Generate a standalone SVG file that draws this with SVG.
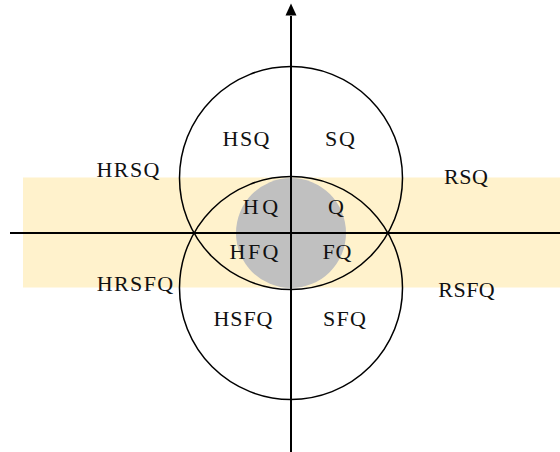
<svg xmlns="http://www.w3.org/2000/svg" width="560" height="452" viewBox="0 0 560 452">
  <style>
    .lbl { font-family: "Liberation Serif", "Times New Roman", serif; font-size: 22px; fill: #111; text-anchor: middle; }
    .ring { fill: none; stroke: #000; stroke-width: 1.5; }
    .axis { stroke: #000; stroke-width: 2; fill: none; }
  </style>
  <rect x="0" y="0" width="560" height="452" fill="#fff"/>
  <g id="band">
    <rect x="23" y="177.5" width="537" height="110" fill="#FFF2CC"/>
  </g>
  <g id="core">
    <circle cx="291" cy="233" r="55" fill="#C0C0C0"/>
  </g>
  <g id="top-circle">
    <circle class="ring" cx="291" cy="178" r="111.5"/>
  </g>
  <g id="bottom-circle">
    <circle class="ring" cx="291" cy="288" r="111.5"/>
  </g>
  <g id="axes">
    <line class="axis" x1="10" y1="233" x2="560" y2="233" stroke-width="1.6"/>
    <line class="axis" x1="291" y1="452" x2="291" y2="16"/>
    <path d="M285.5,15.5 L291,3.5 L296.5,15.5 Z" fill="#000"/>
  </g>
  <g id="labels">
    <text class="lbl" x="128" y="177" textLength="63" lengthAdjust="spacing">HRSQ</text>
    <text class="lbl" x="246" y="146" textLength="47" lengthAdjust="spacing">HSQ</text>
    <text class="lbl" x="340" y="146" textLength="30" lengthAdjust="spacing">SQ</text>
    <text class="lbl" x="466" y="184" textLength="44" lengthAdjust="spacing">RSQ</text>
    <text class="lbl" x="260.5" y="214" textLength="35.5" lengthAdjust="spacing">HQ</text>
    <text class="lbl" x="336" y="214">Q</text>
    <text class="lbl" x="254" y="259" textLength="49" lengthAdjust="spacing">HFQ</text>
    <text class="lbl" x="337" y="259" textLength="29" lengthAdjust="spacing">FQ</text>
    <text class="lbl" x="135" y="291" textLength="76.5" lengthAdjust="spacing">HRSFQ</text>
    <text class="lbl" x="466.5" y="297" textLength="56.5" lengthAdjust="spacing">RSFQ</text>
    <text class="lbl" x="243" y="326" textLength="59" lengthAdjust="spacing">HSFQ</text>
    <text class="lbl" x="344.5" y="326" textLength="43" lengthAdjust="spacing">SFQ</text>
  </g>
</svg>
